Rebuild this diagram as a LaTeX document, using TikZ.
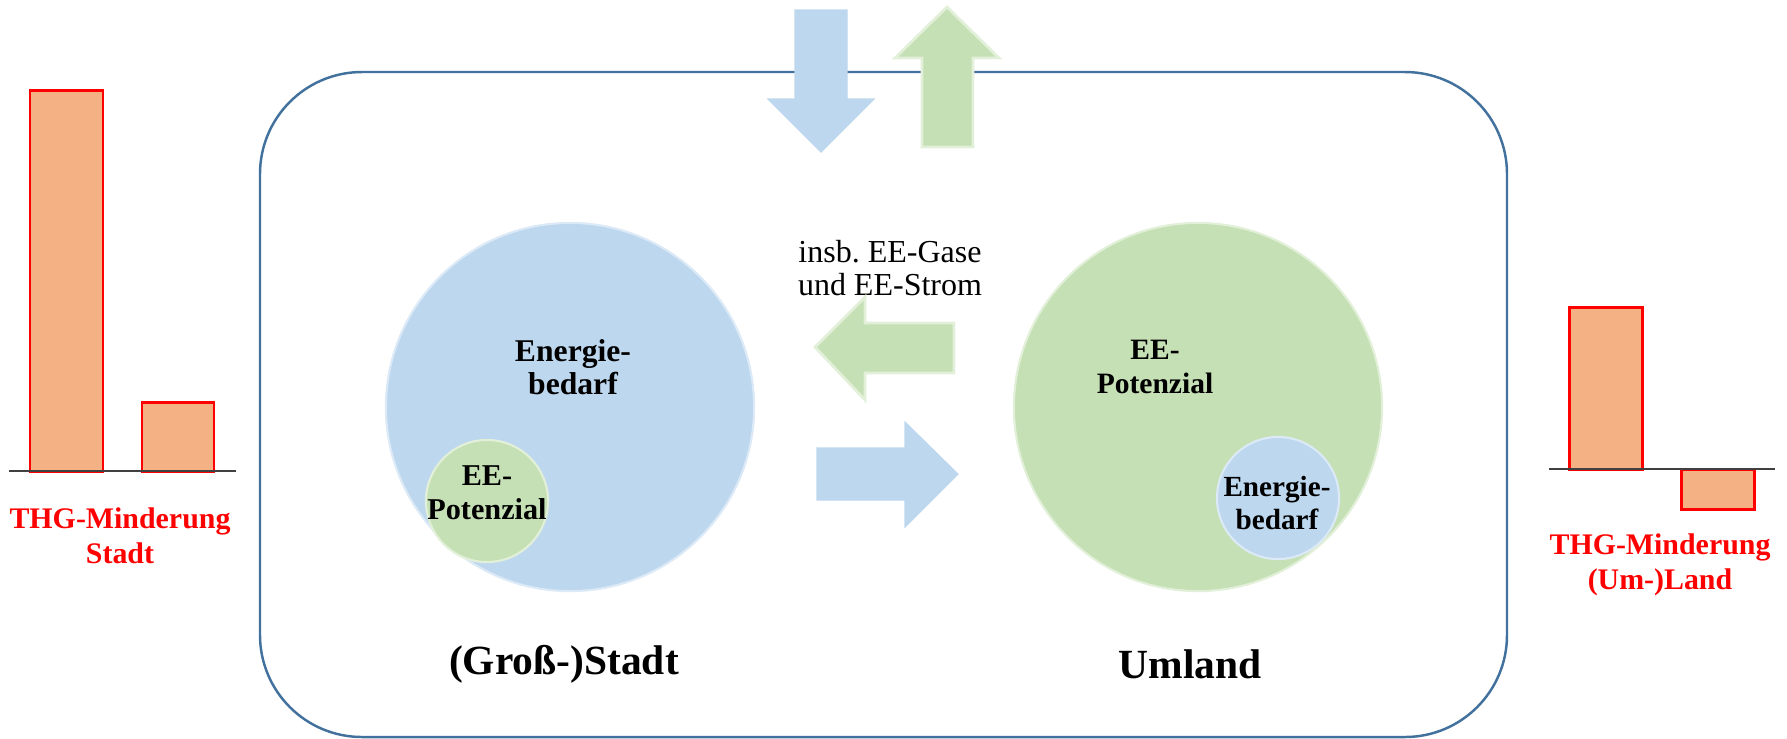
\documentclass[tikz,border=0pt]{standalone}
\usepackage{fontspec}
\setmainfont{Liberation Serif}
\definecolor{frameblue}{HTML}{41719C}
\definecolor{lblue}{HTML}{BDD7EE}
\definecolor{lbluebd}{HTML}{DCE9F6}
\definecolor{lgreen}{HTML}{C5E0B4}
\definecolor{lgreenbd}{HTML}{E2F0D9}
\definecolor{barfill}{HTML}{F4B183}
\definecolor{axisgray}{HTML}{404040}
\begin{document}
\begin{tikzpicture}[x=0.01cm,y=-0.01cm,
  bar/.style={fill=barfill,draw=red,line width=0.85pt},
  axis/.style={draw=axisgray,line width=0.6pt},
  redlab/.style={text=red,font=\fontsize{8.5}{10}\selectfont\bfseries,align=center,inner sep=0pt},
  bigcirc/.style={circle,minimum size=3.68cm,inner sep=0pt,line width=0.6pt},
  smallcirc/.style={circle,minimum size=1.22cm,inner sep=0pt,line width=0.6pt},
  bluec/.style={fill=lblue,draw=lbluebd},
  greenc/.style={fill=lgreen,draw=lgreenbd},
  ctext/.style={font=\fontsize{9}{9.2}\selectfont\bfseries,align=center,inner sep=0pt},
  region/.style={font=\fontsize{11.8}{13}\selectfont\bfseries,inner sep=0pt},
  bluearrow/.style={fill=lblue,draw=lblue,line width=0.3pt},
  greenarrow/.style={fill=lgreen,draw=lgreenbd,line width=0.8pt}]
\useasboundingbox (0,0) rectangle (1787,738);
% frame
\draw[frameblue,line width=0.7pt,rounded corners=29pt] (260,72) rectangle (1507,737);
% left bars
\draw[bar] (30,471) rectangle (103,90);
\draw[bar] (142,471) rectangle (214,402);
\draw[axis] (9,471) -- (236,471);
\node[redlab] (labL) at (120,536) {THG-Minderung\\Stadt};
% right bars
\draw[bar] (1569,469) rectangle (1642,307);
\draw[bar] (1681,469) rectangle (1754,509);
\draw[axis] (1549,469) -- (1775,469);
\node[redlab] (labR) at (1660,565) {THG-Minderung\\(Um-)Land};
% circles
\node[bigcirc,bluec] (cityc) at (570,407) {};
\node[smallcirc,greenc] (cityee) at (487,501) {};
\node[ctext] at (573,367) {Energie-\\bedarf};
\node[ctext,font=\fontsize{8.6}{9.6}\selectfont\bfseries] at (487,493) {EE-\\Potenzial};
\node[bigcirc,greenc] (landc) at (1198,407) {};
\node[smallcirc,bluec] (landbed) at (1278,498) {};
\node[ctext,font=\fontsize{8.4}{9.6}\selectfont\bfseries] at (1155,367) {EE-\\Potenzial};
\node[ctext,font=\fontsize{8.3}{9.6}\selectfont\bfseries] at (1277,503) {Energie-\\bedarf};
% region labels
\node[region] (stadt) at (564,664) {(Groß-)Stadt};
\node[region] (umland) at (1190,664) {Umland};
% middle text
\node[font=\fontsize{9.1}{9.4}\selectfont,align=center,inner sep=0pt] (insb) at (890,268) {insb.\ EE-Gase\\und EE-Strom};
% middle arrows
\draw[greenarrow] (815,347) -- (865,297) -- (865,323) -- (954,323) -- (954,373) -- (865,373) -- (865,400) -- cycle;
\draw[bluearrow] (817,448) -- (905,448) -- (905,422) -- (958,474) -- (905,527) -- (905,500) -- (817,500) -- cycle;
% top arrows
\draw[bluearrow] (795,10) -- (847,10) -- (847,99) -- (874,99) -- (821,152) -- (768,99) -- (795,99) -- cycle;
\draw[greenarrow] (947,7) -- (999,58) -- (973,58) -- (973,147) -- (922,147) -- (922,58) -- (895,58) -- cycle;
\end{tikzpicture}
\end{document}
